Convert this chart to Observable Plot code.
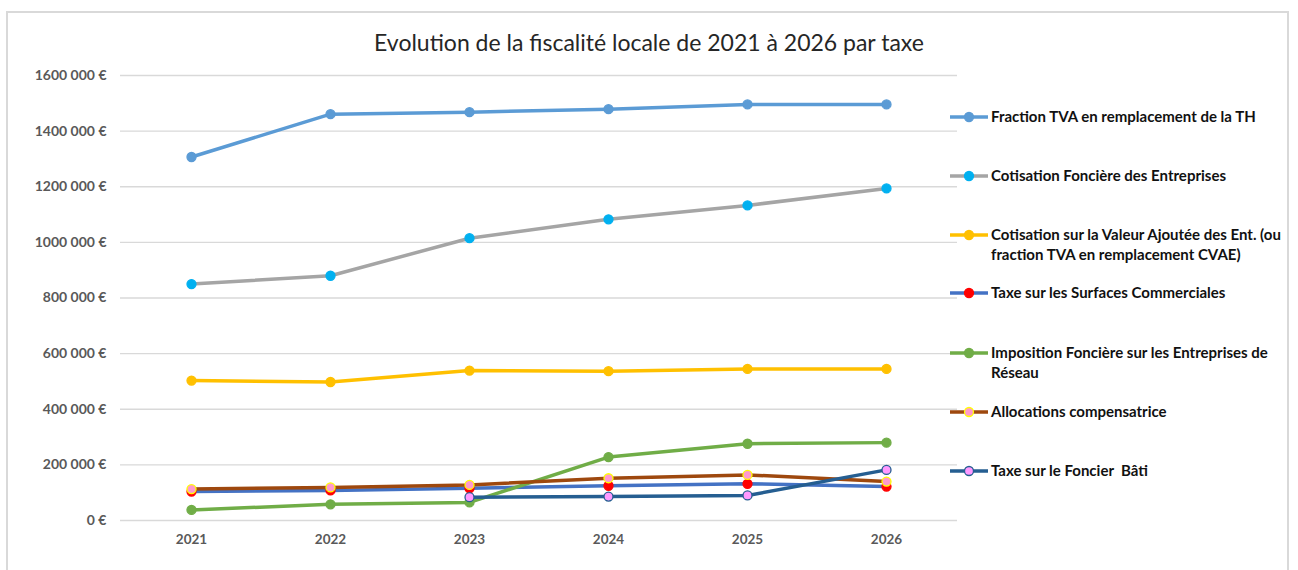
<!DOCTYPE html>
<html>
<head>
<meta charset="utf-8">
<script src="https://cdn.jsdelivr.net/npm/d3@7"></script>
<script src="https://cdn.jsdelivr.net/npm/@observablehq/plot@0.6"></script>
<style>
  html, body { margin: 0; padding: 0; background: #fff; }
  #wrap { position: relative; width: 1298px; height: 570px; overflow: hidden; background: #fff; }
  #frame { position: absolute; left: 6px; top: 11px; width: 1283px; height: 600px; border: 2px solid #D9D9D9; box-sizing: border-box; }
  #title { position: absolute; left: 0; width: 1298px; top: 27px; line-height: 30px; text-align: center; font-family: Lato, sans-serif; font-size: 23px; color: #262626; }
  #chart { position: absolute; left: 0; top: 0; }
  .leg { position: absolute; left: 950px; font-family: Lato, sans-serif; font-weight: bold; font-size: 15px; line-height: 19.5px; color: #111; white-space: nowrap; }
  .leg svg { position: absolute; left: 0; top: 0; }
  .leg span { position: absolute; left: 41px; top: 0; }
</style>
</head>
<body>
<div id="wrap">
  <div id="frame"></div>
  <div id="chart"></div>
  <div id="title">Evolution de la fiscalité locale de 2021 à 2026 par taxe</div>
  <div id="legend"></div>
</div>
<script>
// ---- data ----
const years = ["2021", "2022", "2023", "2024", "2025", "2026"];
const seriesNames = [
  "Fraction TVA en remplacement de la TH",
  "Cotisation Foncière des Entreprises",
  "Cotisation sur la Valeur Ajoutée des Ent. (ou fraction TVA en remplacement CVAE)",
  "Taxe sur les Surfaces Commerciales",
  "Imposition Foncière sur les Entreprises de Réseau",
  "Allocations compensatrice",
  "Taxe sur le Foncier  Bâti"
];
const legendLabels = [
  "Fraction TVA en remplacement de la TH",
  "Cotisation Foncière des Entreprises",
  "Cotisation sur la Valeur Ajoutée des Ent. (ou<br>fraction TVA en remplacement CVAE)",
  "Taxe sur les Surfaces Commerciales",
  "Imposition Foncière sur les Entreprises de<br>Réseau",
  "Allocations compensatrice",
  "Taxe sur le Foncier&nbsp; Bâti"
];
const fractionTVA = [1307000, 1461000, 1468000, 1479000, 1496000, 1496000];
const cfe = [850000, 880000, 1015000, 1083000, 1133000, 1194000];
const cvae = [503000, 498000, 539000, 537000, 545000, 545000];
const tascom = [104000, 108000, 116000, 125000, 132000, 122000];
const ifer = [38000, 58000, 65000, 228000, 276000, 280000];
const allocations = [113000, 119000, 128000, 152000, 164000, 140000];
const foncierBati = [null, null, 84000, 86000, 90000, 182000];
const yTicks = [0, 200000, 400000, 600000, 800000, 1000000, 1200000, 1400000, 1600000];
const yTickLabels = ["0 €", "200 000 €", "400 000 €", "600 000 €", "800 000 €", "1000 000 €", "1200 000 €", "1400 000 €", "1600 000 €"];

// ---- styles ----
const lineColors = ["#5B9BD5", "#A5A5A5", "#FFC000", "#4472C4", "#70AD47", "#9E480E", "#255E91"];
const markerFill = ["#5B9BD5", "#00B0F0", "#FFC000", "#FF0000", "#70AD47", "#FF99CC", "#FF99FF"];
const markerStroke = ["#5B9BD5", "#00B0F0", "#FFC000", "#FF0000", "#70AD47", "#FFFF00", "#255E91"];
const legendTops = [117, 176, 235, 293, 353, 412, 471];

const allValues = [fractionTVA, cfe, cvae, tascom, ifer, allocations, foncierBati];
const rows = [];
allValues.forEach((vals, i) => {
  vals.forEach((v, j) => {
    if (v != null) rows.push({series: seriesNames[i], idx: i, year: years[j], value: v});
  });
});

const marks = [
  Plot.gridY(yTicks, {stroke: "#D9D9D9", strokeOpacity: 1, strokeWidth: 1.3}),
  Plot.axisY(yTicks, {
    tickSize: 0, tickPadding: 14,
    tickFormat: (d) => yTickLabels[yTicks.indexOf(d)],
    fontSize: 14, fontWeight: "bold", fill: "#595959", label: null,
    fontFamily: "Lato, sans-serif"
  }),
  Plot.axisX({
    tickSize: 0, tickPadding: 14, fontSize: 13.5, fontWeight: "bold", fill: "#595959",
    label: null, fontFamily: "Lato, sans-serif"
  })
];
seriesNames.forEach((name, i) => {
  const d = rows.filter(r => r.idx === i);
  marks.push(Plot.line(d, {x: "year", y: "value", stroke: lineColors[i], strokeWidth: 3.5, curve: "linear"}));
  marks.push(Plot.dot(d, {x: "year", y: "value", r: 4.5, fill: markerFill[i], stroke: markerStroke[i], strokeWidth: 1.3}));
});

const chart = Plot.plot({
  width: 960,
  height: 560,
  marginLeft: 120,
  marginRight: 3,
  marginTop: 75,
  marginBottom: 40,
  x: {type: "point", domain: years, padding: 0.5},
  y: {domain: [0, 1600000]},
  style: {background: "transparent", fontFamily: "Lato, sans-serif"},
  marks
});
document.getElementById("chart").appendChild(chart);

// ---- legend ----
const leg = document.getElementById("legend");
seriesNames.forEach((name, i) => {
  const div = document.createElement("div");
  div.className = "leg";
  div.style.top = (legendTops[i] - 10) + "px";
  div.innerHTML =
    `<svg width="40" height="20"><line x1="0" x2="38" y1="10" y2="10" stroke="${lineColors[i]}" stroke-width="3.5"/>` +
    `<circle cx="19" cy="10" r="4.5" fill="${markerFill[i]}" stroke="${markerStroke[i]}" stroke-width="1.3"/></svg>` +
    `<span>${legendLabels[i]}</span>`;
  leg.appendChild(div);
});
</script>
</body>
</html>
